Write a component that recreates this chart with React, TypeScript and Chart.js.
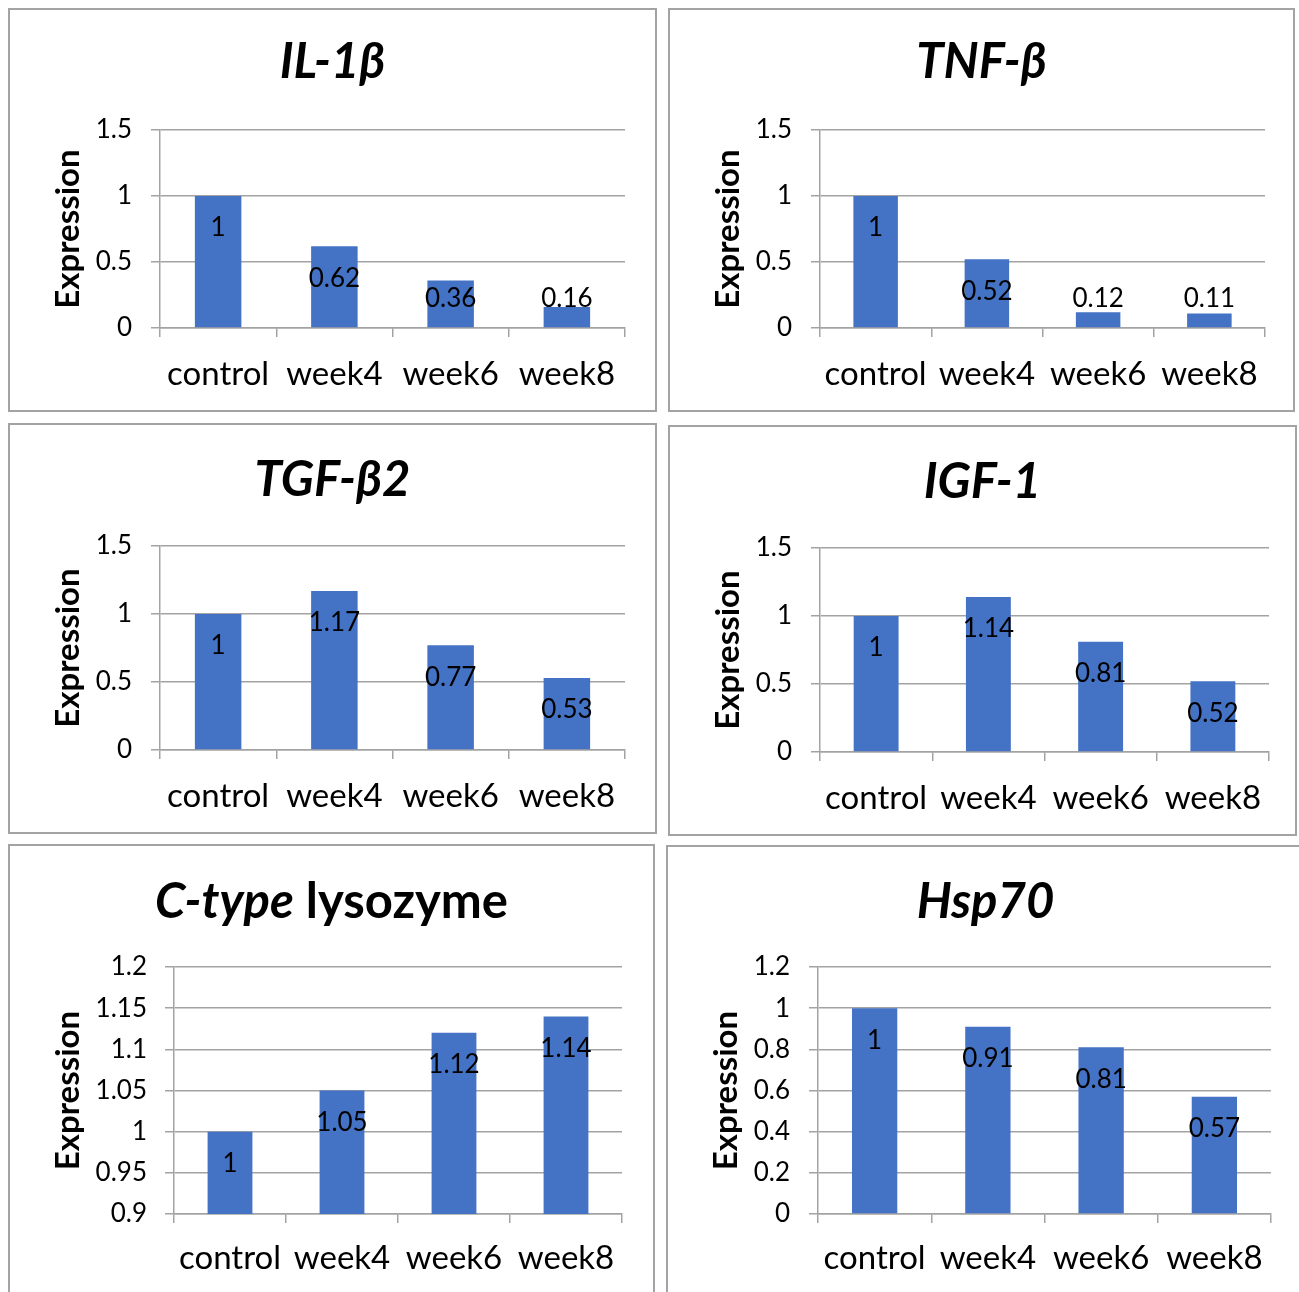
import React, { useEffect, useRef } from 'react';
import { Chart, registerables } from 'chart.js';

Chart.register(...registerables);

// ---------- data ----------
const categories = ['control', 'week4', 'week6', 'week8'];

const il1bValues = [1, 0.62, 0.36, 0.16];
const tnfbValues = [1, 0.52, 0.12, 0.11];
const tgfb2Values = [1, 1.17, 0.77, 0.53];
const igf1Values = [1, 1.14, 0.81, 0.52];
const lysozymeValues = [1, 1.05, 1.12, 1.14];
const hsp70Values = [1, 0.91, 0.81, 0.57];

const il1bTitle = [{ text: 'IL-1β', italic: true }];
const tnfbTitle = [{ text: 'TNF-β', italic: true }];
const tgfb2Title = [{ text: 'TGF-β2', italic: true }];
const igf1Title = [{ text: 'IGF-1', italic: true }];
const lysozymeTitle = [
  { text: 'C-type', italic: true },
  { text: ' lysozyme', italic: false },
];
const hsp70Title = [{ text: 'Hsp70', italic: true }];

const yAxisTitle = 'Expression';

// y ranges: [min, max, step]
const rangeStd = [0, 1.5, 0.5];
const rangeLysozyme = [0.9, 1.2, 0.05];
const rangeHsp = [0, 1.2, 0.2];

// ---------- style ----------
const FONT = 'Lato, "Noto Sans", sans-serif';
const BAR = '#4472C4';
const GRID = '#a3a3a3';
const BORDER = '#a3a3a3';

type Seg = { text: string; italic: boolean };

type PanelDef = {
  title: Seg[];
  values: number[];
  range: number[];
  box: [number, number, number, number]; // left, top, right, bottom (page)
  plot: [number, number, number, number]; // left, top, right, bottom (page)
  titleY: number;
  labelGap: number;
  tickPad: number;
};

const panels: PanelDef[] = [
  { title: il1bTitle, values: il1bValues, range: rangeStd, box: [8, 8, 657, 412], plot: [160, 130, 625, 328], titleY: 62, labelGap: 46, tickPad: 19 },
  { title: tnfbTitle, values: tnfbValues, range: rangeStd, box: [668, 8, 1295, 412], plot: [820, 130, 1265, 328], titleY: 62, labelGap: 46, tickPad: 19 },
  { title: tgfb2Title, values: tgfb2Values, range: rangeStd, box: [8, 423, 657, 834], plot: [160, 546, 625, 750], titleY: 480, labelGap: 46, tickPad: 19 },
  { title: igf1Title, values: igf1Values, range: rangeStd, box: [668, 425, 1297, 836], plot: [820, 548, 1269, 752], titleY: 482, labelGap: 46, tickPad: 19 },
  { title: lysozymeTitle, values: lysozymeValues, range: rangeLysozyme, box: [8, 844, 655, 1300], plot: [174, 967, 622, 1214], titleY: 902, labelGap: 44, tickPad: 18 },
  { title: hsp70Title, values: hsp70Values, range: rangeHsp, box: [666, 845, 1305, 1300], plot: [818, 967, 1271, 1214], titleY: 902, labelGap: 44, tickPad: 19 },
];

const BW = 2; // border width
const TITLE_SIZE = 49;
const TICK_SIZE = 26;
const XLABEL_SIZE = 33;
const YTITLE_SIZE = 33;
const DATA_SIZE = 26;
const TICK_LEN = 9;

const fmt = (v: number) => String(+Number(v).toFixed(2));

function ChartPanel({ def }: { def: PanelDef }) {
  const ref = useRef<HTMLCanvasElement | null>(null);
  const [bl, bt, br, bb] = def.box;
  const cw = br - bl - BW * 2;
  const ch = bb - bt - BW * 2;
  const cx0 = bl + BW;
  const cy0 = bt + BW;

  useEffect(() => {
    const canvas = ref.current;
    if (!canvas) return;
    const [pl, pt, pr, pb] = def.plot.map((v, i) => (i % 2 === 0 ? v - cx0 : v - cy0));
    const padLeft = 20;
    const padBottom = 10;
    const yW = pl - padLeft;
    const xH = ch - pb - padBottom;
    const titleY = def.titleY - cy0;

    const titlePlugin = {
      id: 'panelTitle',
      afterDraw(chart: any) {
        const ctx = chart.ctx;
        ctx.save();
        ctx.fillStyle = '#000';
        ctx.textBaseline = 'middle';
        ctx.textAlign = 'left';
        const fonts = def.title.map(
          (s) => `${s.italic ? 'italic ' : ''}bold ${TITLE_SIZE}px ${FONT}`
        );
        let total = 0;
        const widths = def.title.map((s, i) => {
          ctx.font = fonts[i];
          const w = ctx.measureText(s.text).width;
          total += w;
          return w;
        });
        let x = chart.width / 2 - total / 2;
        def.title.forEach((s, i) => {
          ctx.font = fonts[i];
          ctx.fillText(s.text, x, titleY);
          x += widths[i];
        });
        ctx.restore();
      },
    };

    const dataLabelPlugin = {
      id: 'insideEndLabels',
      afterDatasetsDraw(chart: any) {
        const ctx = chart.ctx;
        const meta = chart.getDatasetMeta(0);
        ctx.save();
        ctx.fillStyle = '#000';
        ctx.font = `${DATA_SIZE}px ${FONT}`;
        ctx.textAlign = 'center';
        ctx.textBaseline = 'middle';
        meta.data.forEach((el: any, i: number) => {
          const v = chart.data.datasets[0].data[i];
          const y = Math.min(el.y + 32, el.base - 29);
          ctx.fillText(fmt(v), el.x, y);
        });
        ctx.restore();
      },
    };

    const [ymin, ymax, ystep] = def.range;
    const yTitleLine = YTITLE_SIZE * 1.2;

    const chart = new Chart(canvas, {
      type: 'bar',
      data: {
        labels: categories,
        datasets: [
          {
            data: def.values,
            backgroundColor: BAR,
            barPercentage: 0.4,
            categoryPercentage: 1,
          },
        ],
      },
      options: {
        animation: false,
        responsive: false,
        maintainAspectRatio: false,
        devicePixelRatio: 1,
        layout: { padding: { left: padLeft, top: pt, right: cw - pr, bottom: padBottom } },
        plugins: {
          legend: { display: false },
          tooltip: { enabled: false },
          title: { display: false },
        },
        scales: {
          x: {
            grid: {
              display: true,
              drawOnChartArea: false,
              drawTicks: true,
              tickLength: TICK_LEN,
              offset: true,
              color: GRID,
              lineWidth: 1.5,
            },
            border: { display: true, color: GRID, width: 1.5 },
            ticks: {
              color: '#000',
              font: { family: FONT, size: XLABEL_SIZE },
              padding: def.labelGap - TICK_LEN - XLABEL_SIZE * 0.6,
              maxRotation: 0,
              autoSkip: false,
            },
            afterFit: (s: any) => {
              s.height = xH;
            },
          },
          y: {
            min: ymin,
            max: ymax,
            ticks: {
              stepSize: ystep,
              color: '#000',
              font: { family: FONT, size: TICK_SIZE },
              padding: def.tickPad,
              callback: (v: any) => fmt(Number(v)),
            },
            grid: {
              color: GRID,
              lineWidth: 1.5,
              tickLength: TICK_LEN,
              drawTicks: true,
            },
            border: { display: true, color: GRID, width: 1.5 },
            title: {
              display: true,
              text: yAxisTitle,
              color: '#000',
              font: { family: FONT, size: YTITLE_SIZE, weight: 'bold' },
              padding: { top: 58 - padLeft - yTitleLine / 2, bottom: 0 },
            },
            afterFit: (s: any) => {
              s.width = yW;
            },
          },
        },
      },
      plugins: [titlePlugin, dataLabelPlugin],
    } as any);
    return () => chart.destroy();
  }, []);

  return (
    <div
      style={{
        position: 'absolute',
        left: bl,
        top: bt,
        width: br - bl,
        height: bb - bt,
        boxSizing: 'border-box',
        border: `${BW}px solid ${BORDER}`,
        background: '#fff',
      }}
    >
      <canvas ref={ref} width={cw} height={ch} style={{ display: 'block', width: cw, height: ch }} />
    </div>
  );
}

export default function App() {
  return (
    <div
      style={{
        position: 'absolute',
        left: 0,
        top: 0,
        width: 1299,
        height: 1292,
        overflow: 'hidden',
        background: '#fff',
      }}
    >
      {panels.map((p, i) => (
        <ChartPanel key={i} def={p} />
      ))}
    </div>
  );
}
